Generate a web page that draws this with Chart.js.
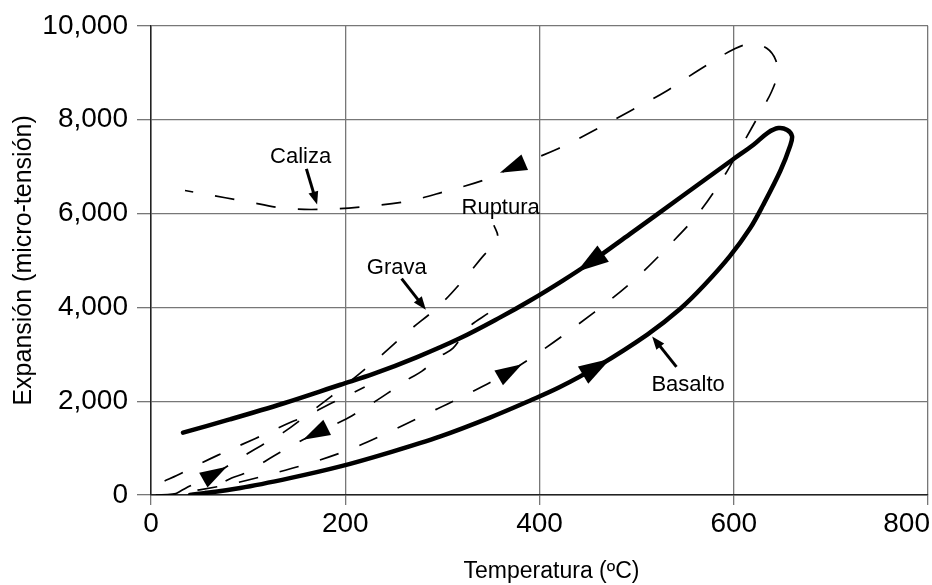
<!DOCTYPE html>
<html>
<head>
<meta charset="utf-8">
<script src="https://cdn.jsdelivr.net/npm/chart.js@4.4.0/dist/chart.umd.min.js"></script>
<style>
    html, body { margin: 0; padding: 0; background: #fff; }
    #wrap { width: 932px; height: 585px; }
</style>
</head>
<body>
<div id="wrap"><canvas id="expansionChart" width="932" height="585"></canvas></div>
<script>
// Axis ticks and titles
const tempTicks = [0, 200, 400, 600, 800];
const expTicks = [0, 2000, 4000, 6000, 8000, 10000];
const tempTitle = 'Temperatura (ºC)';
const expTitle = 'Expansión (micro-tensión)';

// Basalto: heating branch then cooling branch (temperature ºC, micro-strain)
const basaltoTemp = [40, 92, 143, 195, 246, 298, 349, 390, 421, 459, 511, 545, 570, 596, 617, 630, 648, 658, 660, 655, 646,
                     635, 620, 599, 545, 493, 452, 424, 390, 359, 318, 274, 229, 195, 136, 81, 33];
const basaltoExp  = [0, 150, 360, 610, 910, 1250, 1650, 2010, 2300, 2730, 3420, 3970, 4480, 5090, 5690, 6170, 6910, 7440, 7650, 7780, 7820,
                     7720, 7460, 7150, 6340, 5560, 4950, 4570, 4140, 3780, 3340, 2940, 2580, 2350, 1950, 1610, 1330];
const basaltoArrows = [9, 26];

// Caliza: heating up to ~640 ºC, then cooling back along the top
const calizaTemp = [5, 22, 50, 86, 128, 167, 207, 244, 282, 320, 370, 406, 440, 473, 503, 534, 562, 586, 608, 627, 639,
                    645, 643, 634, 619, 601, 565, 530, 493, 457, 419, 372, 344, 303, 264, 222, 181, 138, 97, 56, 35];
const calizaExp  = [0, 20, 110, 250, 470, 700, 990, 1330, 1710, 2090, 2640, 3130, 3640, 4160, 4690, 5330, 5960, 6660, 7440, 8140, 8600,
                    8980, 9280, 9520, 9620, 9510, 9070, 8600, 8180, 7780, 7380, 6980, 6720, 6470, 6260, 6150, 6090, 6110, 6260, 6410, 6490];
const calizaArrows = [10, 31];

// Grava: heating until rupture
const gravaTemp = [23, 40, 66, 100, 136, 169, 202, 234, 265, 297, 326, 344, 353, 357, 353];
const gravaExp  = [0, 190, 460, 890, 1330, 1840, 2370, 2920, 3490, 4040, 4690, 5140, 5290, 5520, 5750];
const gravaArrows = [2];

// Return branch below the basalt loop
const retornoTemp = [347, 328, 311, 298, 279, 265, 243, 229, 207, 193, 169, 133, 97, 83, 50];
const retornoExp  = [3870, 3590, 3130, 2960, 2640, 2470, 2160, 1970, 1690, 1540, 1310, 910, 470, 360, 0];
const retornoArrows = [10];

// Short dashed branch near the origin
const tramoTemp = [14, 27, 45, 69, 107, 145, 161, 184, 197, 220];
const tramoExp  = [300, 420, 610, 850, 1200, 1560, 1690, 1940, 2070, 2300];

// Curve labels and their pointers
const labelText = ['Caliza', 'Ruptura', 'Grava', 'Basalto'];
const labelTemp = [154, 360, 253, 553];
const labelExp  = [7210, 6110, 4840, 2350];
const pointerFromTemp = [160, null, 258, 541];
const pointerFromExp  = [6950, null, 4610, 2730];
const pointerToTemp   = [171, null, 283, 516];
const pointerToExp    = [6190, null, 3950, 3380];

const FONT = '"Liberation Sans", Arial, sans-serif';

function toPoints(xs, ys) {
    return xs.map((x, i) => ({ x: x, y: ys[i] }));
}

function curve(label, xs, ys, solid) {
    return {
        label: label,
        data: toPoints(xs, ys),
        showLine: true,
        borderColor: '#000',
        borderWidth: solid ? 4.5 : 1.7,
        borderDash: solid ? [] : [20, 22],
        borderCapStyle: solid ? 'round' : 'butt',
        borderJoinStyle: 'round',
        tension: 0.35,
        pointRadius: 0,
        fill: false
    };
}

function triangle(ctx, tipX, tipY, ang, len, half) {
    const bx = tipX - Math.cos(ang) * len;
    const by = tipY - Math.sin(ang) * len;
    ctx.beginPath();
    ctx.moveTo(tipX, tipY);
    ctx.lineTo(bx + Math.sin(ang) * half, by - Math.cos(ang) * half);
    ctx.lineTo(bx - Math.sin(ang) * half, by + Math.cos(ang) * half);
    ctx.closePath();
    ctx.fill();
}

// Direction arrows placed on curve points, pointing along the path
const arrowPlugin = {
    id: 'curveArrows',
    afterDatasetsDraw(chart) {
        const { ctx, scales: { x, y } } = chart;
        const sets = [
            [basaltoTemp, basaltoExp, basaltoArrows, 32, 10],
            [calizaTemp, calizaExp, calizaArrows, 27, 8.5],
            [gravaTemp, gravaExp, gravaArrows, 27, 8.5],
            [retornoTemp, retornoExp, retornoArrows, 27, 8.5]
        ];
        ctx.save();
        ctx.fillStyle = '#000';
        sets.forEach(([tx, ey, idxs, len, half]) => {
            idxs.forEach(i => {
                const cx = x.getPixelForValue(tx[i]);
                const cy = y.getPixelForValue(ey[i]);
                const ax = x.getPixelForValue(tx[i - 1]), ay = y.getPixelForValue(ey[i - 1]);
                const bx = x.getPixelForValue(tx[i + 1]), by = y.getPixelForValue(ey[i + 1]);
                const ang = Math.atan2(by - ay, bx - ax);
                triangle(ctx, cx + Math.cos(ang) * len / 2, cy + Math.sin(ang) * len / 2, ang, len, half);
            });
        });
        ctx.restore();
    }
};

// Curve names with pointer arrows, x tick labels kept inside the canvas, x title
const labelPlugin = {
    id: 'curveLabels',
    afterDraw(chart) {
        const { ctx, scales: { x, y } } = chart;
        ctx.save();
        ctx.fillStyle = '#000';
        ctx.strokeStyle = '#000';
        ctx.textAlign = 'center';
        ctx.textBaseline = 'middle';
        ctx.font = '22px ' + FONT;
        labelText.forEach((t, i) => {
            ctx.fillText(t, x.getPixelForValue(labelTemp[i]), y.getPixelForValue(labelExp[i]));
            if (pointerFromTemp[i] === null) return;
            const x0 = x.getPixelForValue(pointerFromTemp[i]), y0 = y.getPixelForValue(pointerFromExp[i]);
            const x1 = x.getPixelForValue(pointerToTemp[i]), y1 = y.getPixelForValue(pointerToExp[i]);
            const ang = Math.atan2(y1 - y0, x1 - x0);
            ctx.lineWidth = 3;
            ctx.beginPath();
            ctx.moveTo(x0, y0);
            ctx.lineTo(x1 - Math.cos(ang) * 8, y1 - Math.sin(ang) * 8);
            ctx.stroke();
            triangle(ctx, x1, y1, ang, 13, 5);
        });

        ctx.font = '28px ' + FONT;
        tempTicks.forEach(v => {
            const label = String(v);
            const w = ctx.measureText(label).width;
            const px = Math.min(x.getPixelForValue(v), chart.width - w / 2 - 2);
            ctx.fillText(label, px, x.top + 29);
        });

        ctx.font = '23px ' + FONT;
        ctx.fillText(tempTitle, (x.left + x.right) / 2 + 12, x.bottom - 13);
        ctx.restore();
    }
};

const ctx = document.getElementById('expansionChart').getContext('2d');
new Chart(ctx, {
    type: 'scatter',
    data: {
        datasets: [
            curve('Basalto', basaltoTemp, basaltoExp, true),
            curve('Caliza', calizaTemp, calizaExp, false),
            curve('Grava', gravaTemp, gravaExp, false),
            curve('Retorno', retornoTemp, retornoExp, false),
            curve('Tramo', tramoTemp, tramoExp, false)
        ]
    },
    options: {
        responsive: false,
        animation: false,
        devicePixelRatio: 1,
        layout: { padding: { top: 22, right: 4, left: 0, bottom: 0 } },
        plugins: {
            legend: { display: false },
            tooltip: { enabled: false }
        },
        scales: {
            x: {
                type: 'linear',
                min: 0,
                max: 800,
                afterBuildTicks(scale) { scale.ticks = tempTicks.map(v => ({ value: v })); },
                afterFit(scale) { scale.height = 90; },
                ticks: { display: false },
                grid: { color: '#777', lineWidth: 1.3, tickLength: 10 },
                border: { color: '#222', width: 1.5 }
            },
            y: {
                type: 'linear',
                min: 0,
                max: 10000,
                afterBuildTicks(scale) { scale.ticks = expTicks.map(v => ({ value: v })); },
                afterFit(scale) { scale.width = 151; },
                ticks: {
                    color: '#000',
                    font: { family: FONT, size: 28 },
                    padding: 9,
                    callback: v => v.toLocaleString('en-US')
                },
                grid: { color: '#777', lineWidth: 1.3, tickLength: 14 },
                border: { color: '#222', width: 1.5 },
                title: {
                    display: true,
                    text: expTitle,
                    color: '#000',
                    font: { family: FONT, size: 25 },
                    padding: { top: 9, bottom: 0 }
                }
            }
        }
    },
    plugins: [arrowPlugin, labelPlugin]
});
</script>
</body>
</html>
